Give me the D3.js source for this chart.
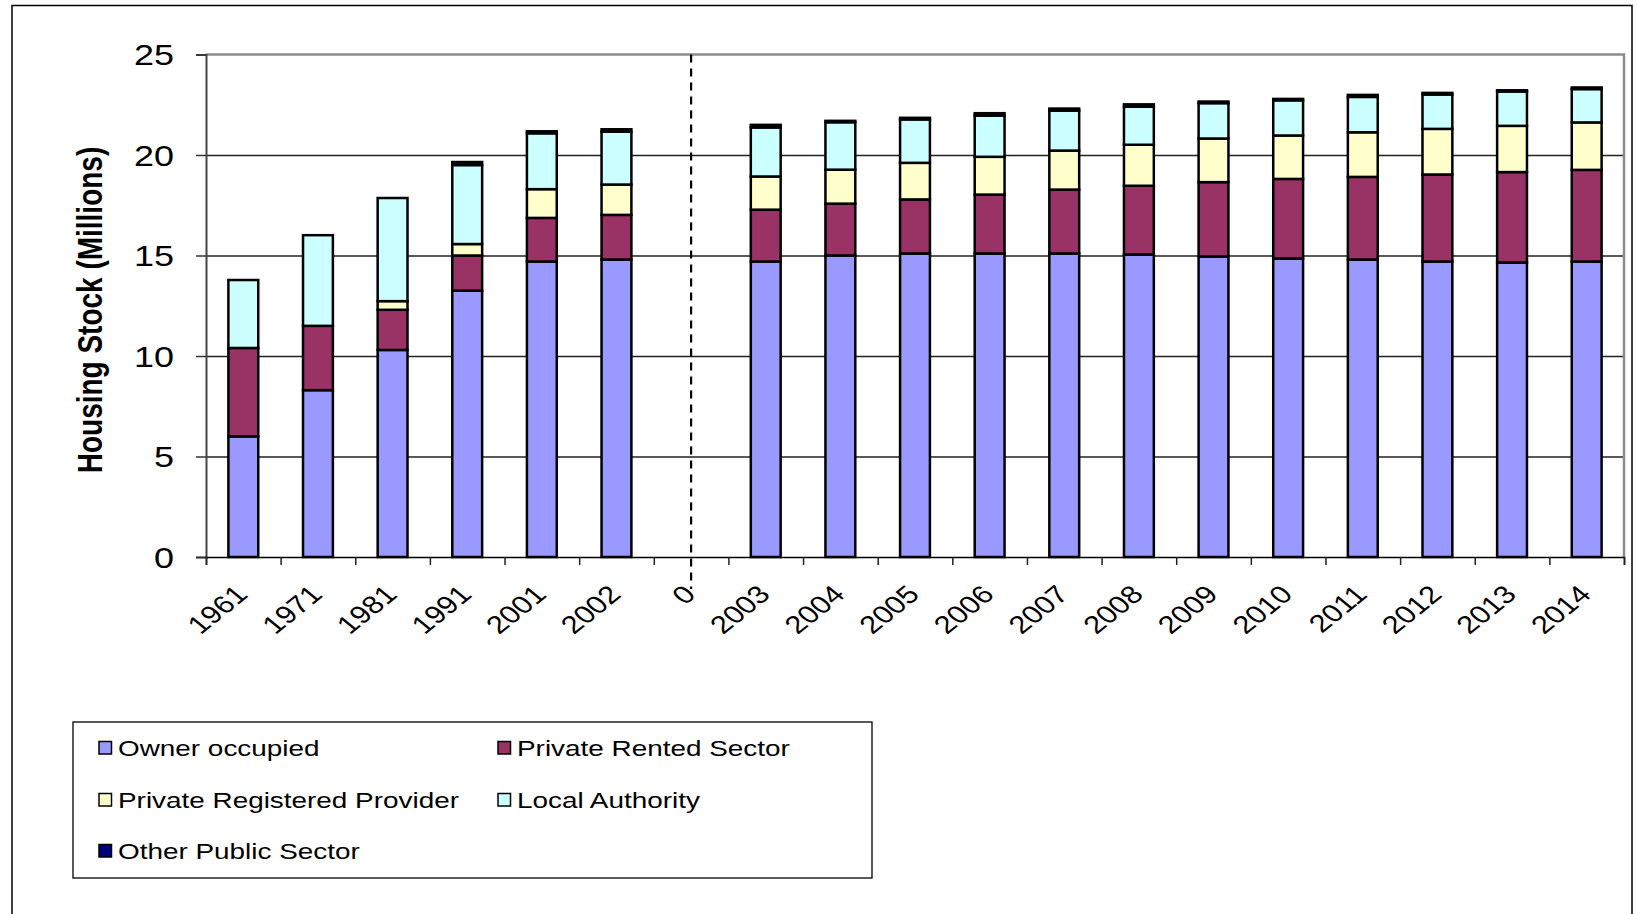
<!DOCTYPE html>
<html>
<head>
<meta charset="utf-8">
<script src="https://cdn.jsdelivr.net/npm/d3@7"></script>
<style>
  body { margin: 0; background: #fff; }
  svg text { font-family: "Liberation Sans", Arial, sans-serif; fill: #000; }
  .grid line { stroke: #222; stroke-width: 1.5; }
  .grid path { display: none; }
</style>
</head>
<body>
<svg id="chart" width="1637" height="914"></svg>
<script>
// categories, the "0" is the empty gap column
let years = ['1961', '1971', '1981', '1991', '2001', '2002', '0',
  '2003', '2004', '2005', '2006', '2007', '2008', '2009', '2010', '2011', '2012', '2013', '2014'];

// housing stock, millions
let ownerOccupied = [6.0, 8.3, 10.3, 13.25, 14.7, 14.8, 0, 14.7, 15.0, 15.1, 15.1, 15.1, 15.05, 14.95, 14.85, 14.8, 14.7, 14.65, 14.7];
let privateRented = [4.4, 3.2, 2.0, 1.75, 2.17, 2.22, 0, 2.58, 2.58, 2.69, 2.93, 3.18, 3.42, 3.7, 3.96, 4.11, 4.33, 4.5, 4.56];
let privateRegistered = [0, 0, 0.43, 0.57, 1.43, 1.51, 0, 1.65, 1.69, 1.82, 1.88, 1.94, 2.04, 2.17, 2.16, 2.22, 2.27, 2.3, 2.36];
let localAuthority = [3.38, 4.51, 5.13, 3.93, 2.78, 2.63, 0, 2.44, 2.36, 2.16, 2.05, 1.99, 1.89, 1.76, 1.75, 1.76, 1.71, 1.71, 1.66];
let otherPublic = [0, 0, 0, 0.15, 0.1, 0.12, 0, 0.13, 0.07, 0.08, 0.12, 0.1, 0.12, 0.08, 0.07, 0.1, 0.08, 0.06, 0.08];

let seriesNames = ['Owner occupied', 'Private Rented Sector', 'Private Registered Provider', 'Local Authority', 'Other Public Sector'];
let seriesColors = ['#9999ff', '#993366', '#ffffcc', '#ccffff', '#000080'];
let yTicks = [0, 5, 10, 15, 20, 25];

// the source picture is stretched sideways, so is the text
let stretch = 1.24;

let plotLeft = 206, plotRight = 1624, plotTop = 54.5, plotBottom = 557;

let svg = d3.select('svg#chart');

// outer frame
svg.append('rect')
  .attr('x', 12).attr('y', 5.5)
  .attr('width', 1620).attr('height', 940)
  .attr('fill', 'none')
  .attr('stroke', '#000')
  .attr('stroke-width', 1.5);

// build the table d3.stack wants
let keys = ['owner', 'prs', 'prp', 'la', 'other'];
let table = years.map((y, i) => ({
  year: y,
  owner: ownerOccupied[i],
  prs: privateRented[i],
  prp: privateRegistered[i],
  la: localAuthority[i],
  other: otherPublic[i]
}));

let xScale = d3.scaleBand()
  .domain(years)
  .range([plotLeft, plotRight])
  .paddingInner(0.6)
  .paddingOuter(0.3);

// same span, used for the ticks between categories
let xEdges = d3.scaleLinear()
  .domain([0, years.length])
  .range([plotLeft, plotRight]);

let yScale = d3.scaleLinear()
  .domain([0, 25])
  .range([plotBottom, plotTop]);

// horizontal grid lines
svg.append('g')
  .attr('class', 'grid')
  .attr('transform', `translate(${plotLeft}, 0)`)
  .call(d3.axisLeft(yScale)
    .tickValues(yTicks.filter(t => t > 0 && t < 25))
    .tickSize(-(plotRight - plotLeft))
    .tickFormat('')
  );

// plot border, top and right in grey
svg.append('path')
  .attr('d', `M${plotLeft},${yScale(25)}H${plotRight}V${plotBottom}`)
  .attr('fill', 'none')
  .attr('stroke', '#8c8c8c')
  .attr('stroke-width', 2.5);

// stacked bars
let stacked = d3.stack().keys(keys)(table);

svg.append('g')
  .selectAll('g')
  .data(stacked)
  .enter()
  .append('g')
  .attr('fill', (d, i) => seriesColors[i])
  .selectAll('rect')
  .data(d => d.filter(s => s[1] - s[0] > 0))
  .enter()
  .append('rect')
  .attr('x', d => xScale(d.data.year))
  .attr('y', d => yScale(d[1]))
  .attr('width', xScale.bandwidth())
  .attr('height', d => yScale(d[0]) - yScale(d[1]))
  .attr('stroke', '#000')
  .attr('stroke-width', 2.5);

// dashed divider at the gap column
let gapX = xScale('0') + xScale.bandwidth() / 2;
svg.append('line')
  .attr('x1', gapX).attr('x2', gapX)
  .attr('y1', yScale(25)).attr('y2', plotBottom + 32)
  .attr('stroke', '#000')
  .attr('stroke-width', 2.2)
  .attr('stroke-dasharray', '8,6');

// y axis
let yAxis = svg.append('g')
  .attr('transform', `translate(${plotLeft}, 0)`)
  .call(d3.axisLeft(yScale).tickValues(yTicks).tickSize(10).tickFormat(d3.format('d')));

yAxis.select('.domain').attr('stroke', '#444').attr('stroke-width', 2);
yAxis.selectAll('.tick line').attr('stroke', '#333').attr('stroke-width', 1.5);
yAxis.selectAll('.tick text')
  .attr('x', 0)
  .attr('dy', '0.36em')
  .attr('transform', `translate(-32, 0) scale(${stretch}, 1)`)
  .attr('font-size', 29)
  .attr('text-anchor', 'end');

// x axis: ticks between the categories
let xTickAxis = svg.append('g')
  .attr('transform', `translate(0, ${plotBottom})`)
  .call(d3.axisBottom(xEdges).tickValues(d3.range(0, years.length + 1)).tickSize(8).tickFormat(''));

xTickAxis.select('.domain').attr('stroke', '#000').attr('stroke-width', 1.6);
xTickAxis.selectAll('.tick line').attr('stroke', '#222').attr('stroke-width', 1.5);

// x axis: category labels
let xLabelAxis = svg.append('g')
  .attr('transform', `translate(0, ${plotBottom})`)
  .call(d3.axisBottom(xScale).tickSize(0));

xLabelAxis.select('.domain').remove();
xLabelAxis.selectAll('.tick text')
  .attr('x', 0)
  .attr('y', 0)
  .attr('dy', 0)
  .attr('font-size', 25)
  .attr('text-anchor', 'end')
  .attr('transform', `translate(6, 39) scale(${stretch}, 1) rotate(-45)`);

// axis title
svg.append('text')
  .attr('transform', `translate(102, 310) scale(${stretch}, 1) rotate(-90)`)
  .attr('text-anchor', 'middle')
  .attr('font-size', 28)
  .attr('font-weight', 'bold')
  .text('Housing Stock (Millions)');

// legend
let legend = svg.append('g');

legend.append('rect')
  .attr('x', 73).attr('y', 722)
  .attr('width', 799).attr('height', 156)
  .attr('fill', '#fff')
  .attr('stroke', '#000')
  .attr('stroke-width', 1.3);

let legendCols = [99, 498];
let legendRows = [748, 800, 851];

let items = legend.selectAll('g.item')
  .data(seriesNames)
  .enter()
  .append('g')
  .attr('class', 'item')
  .attr('transform', (d, i) => `translate(${legendCols[i % 2]}, ${legendRows[Math.floor(i / 2)]})`);

items.append('rect')
  .attr('x', 0).attr('y', -6.5)
  .attr('width', 12.5).attr('height', 12.5)
  .attr('fill', (d, i) => seriesColors[i])
  .attr('stroke', '#000')
  .attr('stroke-width', 1.5);

items.append('text')
  .attr('transform', `translate(19, 8) scale(${stretch}, 1)`)
  .attr('font-size', 22.5)
  .text(d => d);
</script>
</body>
</html>
